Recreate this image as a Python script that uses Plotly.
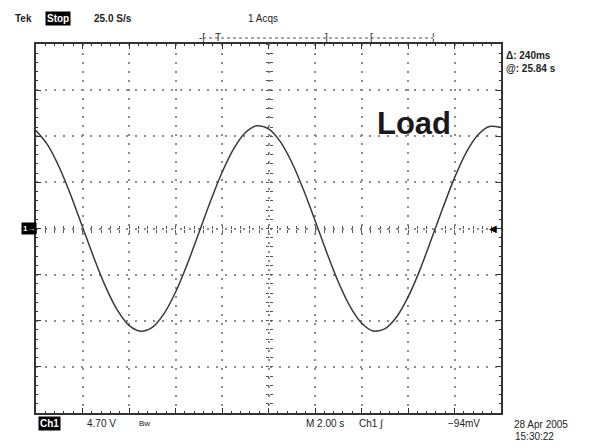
import plotly.graph_objects as go

# Acquisition settings shown on the scope display
time_per_div = 2.0      # s/div (M 2.00 s)
volts_per_div = 4.70    # V/div (Ch1 4.70 V)
n_xdiv, n_ydiv = 10, 8

# Captured Ch1 record (time in s, voltage in V)
time_s = [0.0, 0.5, 1.0, 1.5, 2.0, 2.5, 3.0, 3.5, 4.0, 4.5,
          5.0, 5.5, 6.0, 6.5, 7.0, 7.5, 8.0, 8.5, 9.0, 9.5,
          10.0, 10.5, 11.0, 11.5, 12.0, 12.5, 13.0, 13.5, 14.0, 14.5,
          15.0, 15.5, 16.0, 16.5, 17.0, 17.5, 18.0, 18.5, 19.0, 19.5, 20.0]
ch1_v = [9.98, 8.52, 6.24, 3.37, 0.16, -3.05, -5.97, -8.32, -9.87, -10.47,
         -10.07, -8.70, -6.50, -3.67, -0.48, 2.75, 5.71, 8.12, 9.76, 10.46,
         10.15, 8.88, 6.75, 3.97, 0.82, -2.42, -5.43, -7.91, -9.63, -10.44,
         -10.23, -9.05, -7.00, -4.29, -1.13, 2.11, 5.16, 7.73, 9.53, 10.40, 10.30]

# Readout texts
top_rate = "25.0 S/s"
top_acqs = "1 Acqs"
delta_txt = "Δ: 240ms"
at_txt = "@: 25.84 s"
scale_txt = "4.70 V"
timebase_txt = "M 2.00 s"
trig_src = "Ch1 ∫"
trig_lvl = "−94mV"
date_txt = "28 Apr 2005"
clock_txt = "15:30:22"
label_txt = "Load"

W, H = 600, 447
L, R, T, B = 36, 99, 44, 34
PW, PH = W - L - R, H - T - B

def px(x):
    return (x - L) / PW

def py(y):
    return (H - B - y) / PH

x_rng = [0, n_xdiv * time_per_div]
y_rng = [-n_ydiv / 2 * volts_per_div, n_ydiv / 2 * volts_per_div]
grid_col = "#8c8c8c"
frame_col = "#333333"
font = "Liberation Sans"

fig = go.Figure()
fig.add_trace(go.Scatter(
    x=time_s, y=ch1_v, mode="lines",
    line=dict(color="#3a3a3a", width=1.5, shape="spline", smoothing=0.8),
    hoverinfo="skip", showlegend=False,
))
# empty traces so that the centre graticule axes are drawn
for xa, ya in [("x2", "y"), ("x3", "y"), ("x", "y2"), ("x", "y3")]:
    fig.add_trace(go.Scatter(x=[], y=[], xaxis=xa, yaxis=ya, showlegend=False))

frame = dict(showline=True, linecolor=frame_col, linewidth=1.5, mirror="ticks",
             ticks="inside", ticklen=5, tickcolor=frame_col, tickwidth=1,
             showticklabels=False, showgrid=True, gridcolor=grid_col,
             griddash="2px,7px", gridwidth=1.5, zeroline=False, fixedrange=True)

fig.update_layout(
    width=W, height=H, margin=dict(l=L, r=R, t=T, b=B),
    paper_bgcolor="white", plot_bgcolor="white",
    xaxis=dict(range=x_rng, dtick=time_per_div,
               minor=dict(ticks="inside", dtick=time_per_div / 5, ticklen=2.5,
                          tickcolor=frame_col, showgrid=False), **frame),
    yaxis=dict(range=y_rng, dtick=volts_per_div,
               minor=dict(ticks="inside", dtick=volts_per_div / 5, ticklen=2.5,
                          tickcolor=frame_col, showgrid=False), **frame),
)

# centre cross-hair tick marks (both sides of the centre lines)
centre = dict(showline=False, showgrid=False, zeroline=False, showticklabels=False,
              ticklen=3, tickcolor="#555555", tickwidth=1, fixedrange=True)
fig.update_layout(
    xaxis2=dict(overlaying="x", anchor="free", position=0.5, range=x_rng,
                dtick=time_per_div / 5, ticks="outside", **centre),
    xaxis3=dict(overlaying="x", anchor="free", position=0.5, range=x_rng,
                dtick=time_per_div / 5, ticks="inside", **centre),
    yaxis2=dict(overlaying="y", anchor="free", position=0.5, range=y_rng,
                dtick=volts_per_div / 5, ticks="outside", **centre),
    yaxis3=dict(overlaying="y", anchor="free", position=0.5, range=y_rng,
                dtick=volts_per_div / 5, ticks="inside", **centre),
)

ann = []

def text(x, y, s, size=10, color="#222222", bold=True, bg=None, xanchor="left", fam=font):
    d = dict(x=px(x), y=py(y), xref="paper", yref="paper", showarrow=False,
             text=f"<b>{s}</b>" if bold else s, xanchor=xanchor, yanchor="middle",
             font=dict(family=fam, size=size, color=color))
    if bg:
        d.update(bgcolor=bg, borderpad=1)
    ann.append(d)

# top status line
text(13, 19, "Tek", size=10)
text(45, 19, "Stop", size=10, color="white", bg="black")
text(92, 19, top_rate, size=10)
text(246, 19, top_acqs, size=10, bold=False)

# trigger / record bar
fig.add_shape(type="line", xref="paper", yref="paper", x0=px(203), x1=px(433),
              y0=py(38), y1=py(38), line=dict(color="#555555", width=1, dash="3px,3px"))
for xx, s in [(197, "-["), (213, "T"), (323, "]"), (368, "["), (430, "¦")]:
    text(xx, 37, s, size=10, bold=False, color="#222222")

# cursor readouts
text(504, 55, delta_txt, size=10)
text(504, 68, at_txt, size=10)

# channel markers
text(21, 229, "1→", size=8, color="white", bg="black")
text(493, 229, "◀", size=10, color="black", xanchor="center", bold=False)

# bottom readouts
text(38, 423, "Ch1", size=10, color="white", bg="black")
text(85, 423, scale_txt, size=10, bold=False)
text(137, 423, "Bw", size=8, bold=False)
text(304, 423, timebase_txt, size=10, bold=False)
text(357, 423, trig_src, size=10, bold=False)
text(446, 423, trig_lvl, size=10, bold=False)
text(512, 424, date_txt, size=10, bold=False)
text(513, 437, clock_txt, size=10, bold=False)

# waveform label
text(375, 124, label_txt, size=31, color="#1a1a1a")

fig.update_layout(annotations=ann)
fig.write_html("out.html")
